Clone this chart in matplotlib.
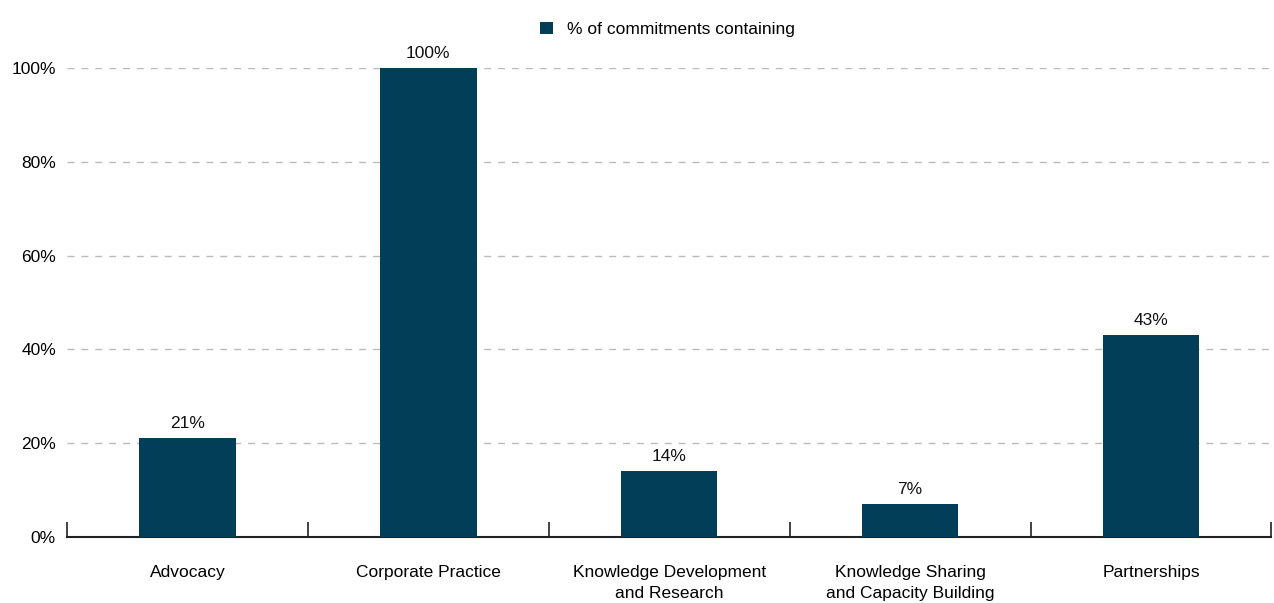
import numpy as np
import matplotlib.pyplot as plt

categories = ["Advocacy", "Corporate Practice", "Knowledge Development\nand Research",
              "Knowledge Sharing\nand Capacity Building", "Partnerships"]
values = [21, 100, 14, 7, 43]
yticks = [0, 20, 40, 60, 80, 100]
series_name = "% of commitments containing"

BAR = '#033e58'
FS = 12.5
plt.rcParams['font.family'] = ['Liberation Sans', 'DejaVu Sans']

fig = plt.figure(figsize=(12.74, 6.03), dpi=100)
ax = fig.add_axes([0.0526, 0.1095, 0.9454, 0.7777])

x = np.arange(len(categories))
ax.bar(x, values, width=0.4, color=BAR, label=series_name, zorder=3)
for xi, v in zip(x, values):
    ax.text(xi, v + 1.5, f"{v}%", ha='center', va='bottom', fontsize=FS, color='#111111')

ax.set_xlim(-0.5, len(categories) - 0.5)
ax.set_ylim(0, 100)
ax.set_yticks(yticks)
ax.set_yticklabels([f"{t}%" for t in yticks], fontsize=FS)
ax.yaxis.grid(True, color='#bbbbbb', ls=(0, (5, 5)), lw=1, zorder=0)
ax.tick_params(axis='y', length=0, pad=8)

ax.set_xticks(x)
ax.set_xticklabels(categories, fontsize=FS, linespacing=1.55)
ax.tick_params(axis='x', which='major', length=0, pad=20)
ax.set_xticks(np.arange(-0.5, len(categories)), minor=True)
ax.tick_params(axis='x', which='minor', direction='in', length=11, width=1.2, color='#222222')

for s in ['top', 'right', 'left']:
    ax.spines[s].set_visible(False)
ax.spines['bottom'].set_linewidth(1.5)
ax.spines['bottom'].set_color('#222222')

fig.legend(loc='upper center', bbox_to_anchor=(0.524, 0.99), frameon=False, fontsize=FS,
           handlelength=0.75, handleheight=0.75, handletextpad=0.8)

fig.savefig("out.png", dpi=100)
